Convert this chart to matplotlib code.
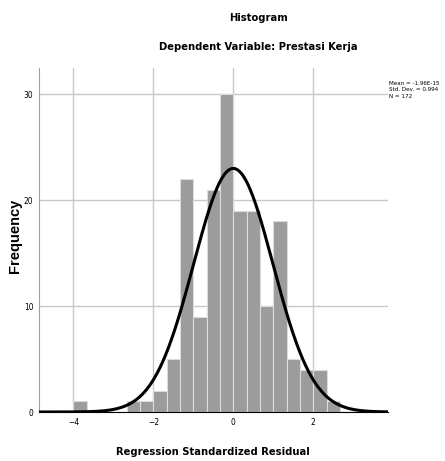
import numpy as np
import matplotlib
matplotlib.use("Agg")
import matplotlib.pyplot as plt
from matplotlib import font_manager

# histogram of regression standardized residuals
bin_width = 1 / 3
bin_left = [-4.0, -2.6667, -2.3333, -2.0, -1.6667, -1.3333, -1.0, -0.6667, -0.3333,
            0.0, 0.3333, 0.6667, 1.0, 1.3333, 1.6667, 2.0, 2.3333]
counts = [1, 1, 1, 2, 5, 22, 9, 21, 30, 19, 19, 10, 18, 5, 4, 4, 1]
mean = -1.96e-15
std_dev = 0.994
n_obs = 172

x_ticks = [-4, -2, 0, 2]
y_ticks = [0, 10, 20, 30]


def condensed(weight):
    # pick the DejaVu condensed file directly, stretch matching is unreliable
    for f in font_manager.fontManager.ttflist:
        if (f.name == "DejaVu Sans" and f.stretch == "condensed"
                and f.weight == weight and f.style == "normal"):
            return f.fname
    return None


cond_reg = condensed(400)
cond_bold = condensed(700)


def fp(path, size):
    if path:
        return font_manager.FontProperties(fname=path, size=size)
    return font_manager.FontProperties(family="DejaVu Sans", size=size)


fig = plt.figure(figsize=(4.45, 4.61), dpi=100)
ax = fig.add_axes([39 / 445, 49 / 461, 349 / 445, 344 / 461])

ax.grid(True, color="#c8c8c8", lw=1)
ax.set_axisbelow(True)

ax.bar(bin_left, counts, width=bin_width, align="edge", color="#9c9c9c",
       edgecolor="#dcdcdc", linewidth=0.8, zorder=2)

# fitted normal curve
xs = np.linspace(-4.9, 3.9, 400)
pdf = np.exp(-0.5 * ((xs - mean) / std_dev) ** 2) / (std_dev * np.sqrt(2 * np.pi))
ax.plot(xs, pdf * n_obs * bin_width, color="black", lw=2.2, zorder=3)

ax.set_xlim(-4.86, 3.87)
ax.set_ylim(0, 32.5)
ax.set_xticks(x_ticks)
ax.set_yticks(y_ticks)
ax.tick_params(length=0, pad=4)
for lab in ax.get_xticklabels() + ax.get_yticklabels():
    lab.set_fontproperties(fp(cond_reg, 6))

for s in ["top", "right"]:
    ax.spines[s].set_visible(False)
ax.spines["left"].set_color("#a0a0a0")
ax.spines["bottom"].set_color("black")

fig.text(258 / 445, 1 - 18 / 461, "Histogram", ha="center", va="center",
         fontproperties=fp(cond_bold, 8))
fig.text(258 / 445, 1 - 47 / 461, "Dependent Variable: Prestasi Kerja", ha="center",
         va="center", fontproperties=fp(cond_bold, 8))
fig.text(213 / 445, 1 - 452 / 461, "Regression Standardized Residual", ha="center",
         va="center", fontproperties=fp(cond_bold, 8))
fig.text(15 / 445, 1 - 236 / 461, "Frequency", ha="center", va="center",
         rotation=90, fontsize=10.5, fontweight="bold", family="Liberation Sans")

stats = f"Mean = -1.96E-15\nStd. Dev. = {std_dev}\nN = {n_obs}"
fig.text(389 / 445, 1 - 81 / 461, stats, ha="left", va="top",
         fontproperties=fp(cond_reg, 4.5), linespacing=1.35)

fig.savefig("out.png", dpi=100)
